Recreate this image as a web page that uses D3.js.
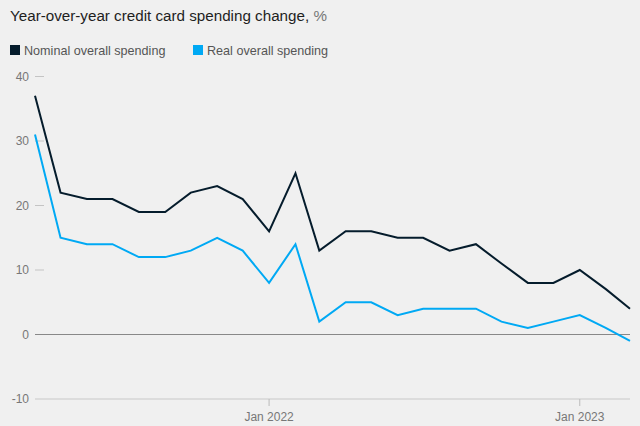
<!DOCTYPE html>
<meta charset="utf-8" />
<title>Credit card spending</title>
<script src="https://d3js.org/d3.v7.min.js"></script>
<style>
    body {
        margin: 0;
        background: #f0f0f0;
        font-family: 'Liberation Sans', Arial, sans-serif;
    }
    .title {
        font-size: 15.2px;
        fill: #1e1e1e;
    }
    .unit {
        fill: #777;
    }
    .legend text {
        font-size: 12.6px;
        fill: #555;
    }
    .axis text {
        font-size: 12px;
        fill: #777;
    }
</style>
<div id="chart"></div>
<script>
// months Apr 2021 .. Mar 2023
var months = d3.range(0, 24).map(function(i) { return new Date(2021, 3 + i, 1); });
var nominal = [37, 22, 21, 21, 19, 19, 22, 23, 21, 16, 25, 13, 16, 16, 15, 15, 13, 14, 11, 8, 8, 10, 7, 4];
var real = [31, 15, 14, 14, 12, 12, 13, 15, 13, 8, 14, 2, 5, 5, 3, 4, 4, 4, 2, 1, 2, 3, 1, -1];
var yTicks = [40, 30, 20, 10, 0, -10];
var xTicks = [new Date(2022, 0, 1), new Date(2023, 0, 1)];
var seriesNames = ['Nominal overall spending', 'Real overall spending'];
var colors = ['#051c2c', '#00a9f4'];

var width = 640, height = 426;
var svg = d3.select('#chart').append('svg')
    .attr('width', width)
    .attr('height', height);

var x = d3.scaleTime()
    .domain([months[0], months[months.length - 1]])
    .range([35, 630]);
var y = d3.scaleLinear()
    .domain([-10, 40])
    .range([399, 76.5]);

// title
var title = svg.append('text')
    .attr('class', 'title')
    .attr('x', 10)
    .attr('y', 21);
title.append('tspan').text('Year-over-year credit card spending change,');
title.append('tspan').attr('class', 'unit').text(' %');

// legend
var legend = svg.append('g').attr('class', 'legend');
var lx = [10, 193];
seriesNames.forEach(function(name, i) {
    legend.append('rect')
        .attr('x', lx[i])
        .attr('y', 45)
        .attr('width', 10)
        .attr('height', 10)
        .style('fill', colors[i]);
    legend.append('text')
        .attr('x', lx[i] + 14)
        .attr('y', 55)
        .text(name);
});

// y axis
var yAxis = svg.append('g').attr('class', 'axis');
yTicks.forEach(function(t) {
    if (t > 0) {
        yAxis.append('line')
            .attr('x1', 35).attr('x2', 44)
            .attr('y1', y(t)).attr('y2', y(t))
            .style('stroke', '#c4c4c4');
    } else {
        yAxis.append('line')
            .attr('x1', 35).attr('x2', 630)
            .attr('y1', y(t)).attr('y2', y(t))
            .style('stroke', t == 0 ? '#888' : '#c8c8c8')
            .style('stroke-width', 1.2);
    }
    yAxis.append('text')
        .attr('x', 29)
        .attr('y', y(t) + 4)
        .attr('text-anchor', 'end')
        .text(t);
});

// x axis
var xAxis = svg.append('g').attr('class', 'axis');
xTicks.forEach(function(t) {
    xAxis.append('line')
        .attr('x1', x(t)).attr('x2', x(t))
        .attr('y1', y(-10)).attr('y2', y(-10) + 7)
        .style('stroke', '#bbb');
    xAxis.append('text')
        .attr('x', x(t))
        .attr('y', 421)
        .attr('text-anchor', 'middle')
        .text(d3.timeFormat('%b %Y')(t));
});

// lines
var line = d3.line()
    .x(function(d, i) { return x(months[i]); })
    .y(function(d) { return y(d); });

[nominal, real].forEach(function(s, i) {
    svg.append('path')
        .datum(s)
        .attr('d', line)
        .style('fill', 'none')
        .style('stroke', colors[i])
        .style('stroke-width', 2);
});
</script>
